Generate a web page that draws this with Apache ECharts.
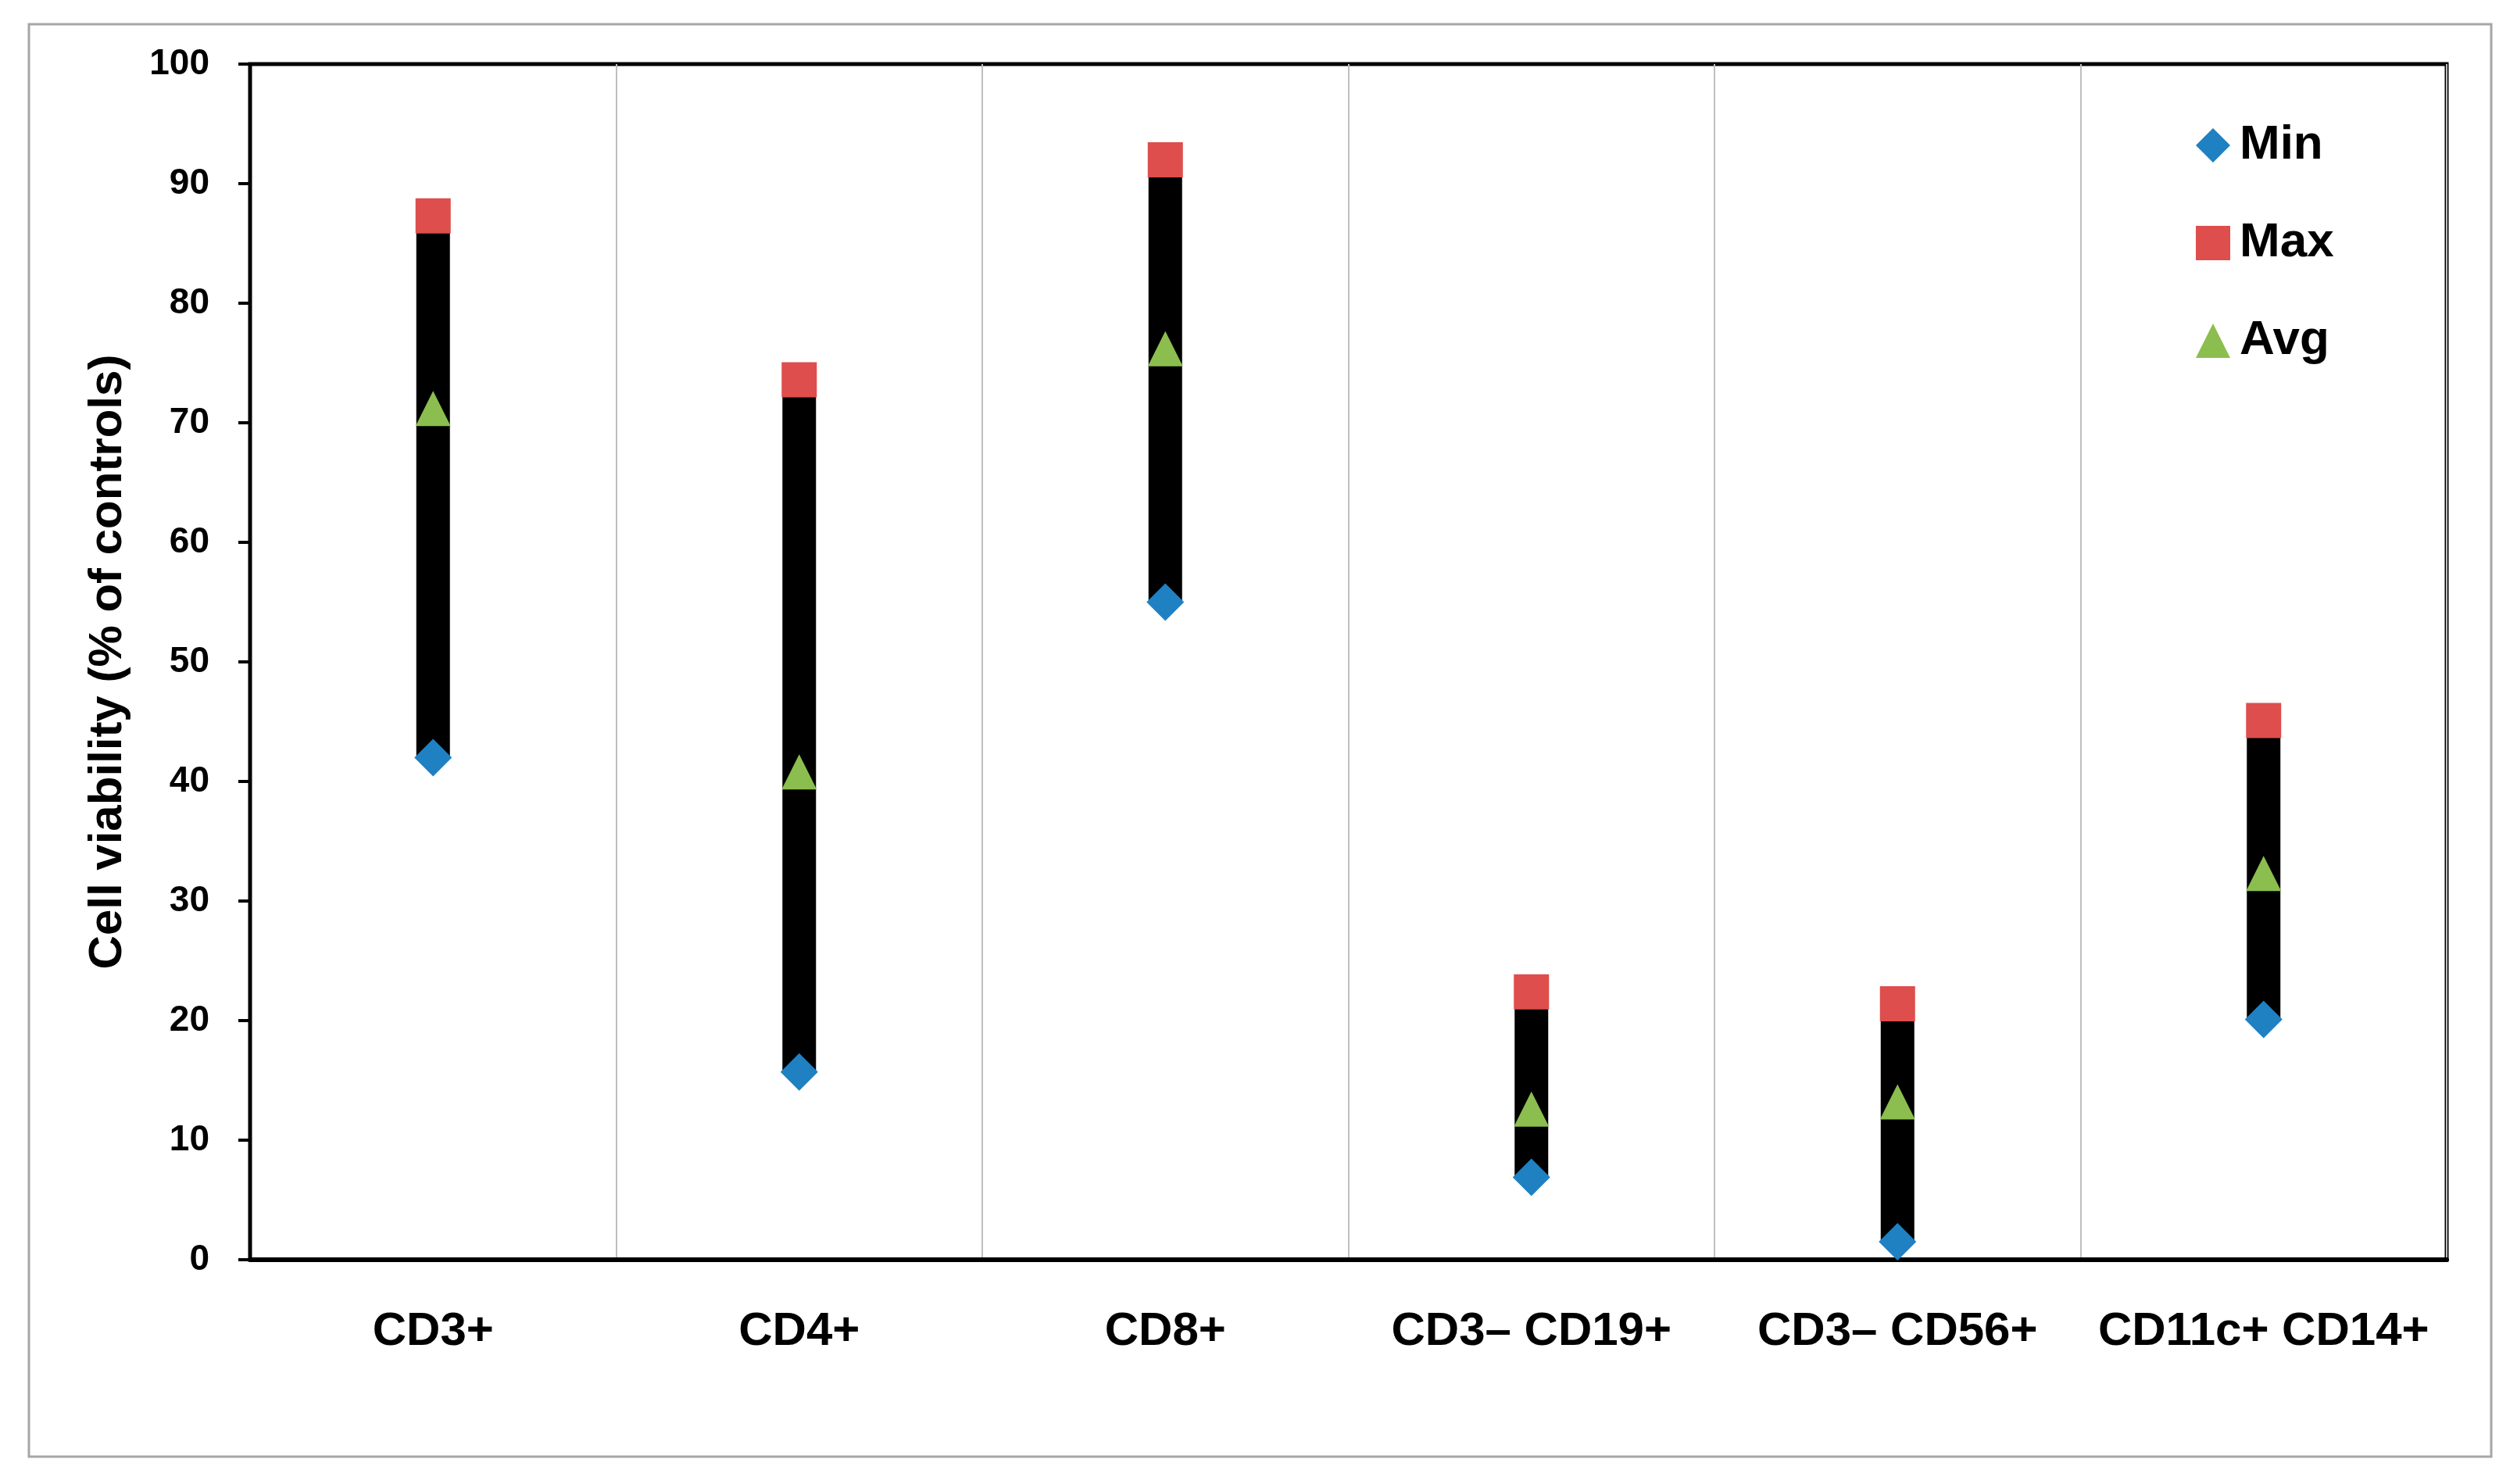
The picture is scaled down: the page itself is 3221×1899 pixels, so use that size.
<!DOCTYPE html>
<html>
<head>
<meta charset="utf-8">
<script src="https://cdn.jsdelivr.net/npm/echarts@6/dist/echarts.min.js"></script>
<style>
html,body{margin:0;padding:0;background:#fff;}
#chart{width:3221px;height:1899px;}
</style>
</head>
<body>
<div id="chart"></div>
<script>
const categories = ['CD3+', 'CD4+', 'CD8+', 'CD3\u2013 CD19+', 'CD3\u2013 CD56+', 'CD11c+ CD14+'];
const minVals = [42.0, 15.7, 55.0, 6.9, 1.5, 20.1];
const maxVals = [87.3, 73.6, 92.0, 22.4, 21.4, 45.1];
const avgVals = [71.2, 40.8, 76.2, 12.6, 13.2, 32.3];
const yTicks = [0, 10, 20, 30, 40, 50, 60, 70, 80, 90, 100];

const FONT = 'Liberation Sans';
const chart = echarts.init(document.getElementById('chart'), null, {renderer: 'canvas'});

const rangeData = categories.map((c, i) => [i, minVals[i], maxVals[i]]);

const option = {
  backgroundColor: '#fff',
  animation: false,
  graphic: [{
    type: 'rect',
    shape: {x: 37, y: 31, width: 3151, height: 1833},
    style: {fill: 'none', stroke: '#A6A6A6', lineWidth: 3},
    z: -10
  }],
  grid: {
    left: 320, right: 90, top: 82, bottom: 287,
    show: true, borderColor: '#000', borderWidth: 5, backgroundColor: 'transparent'
  },
  legend: {
    orient: 'vertical',
    left: 2805, top: 150,
    itemWidth: 44, itemHeight: 44, itemGap: 63,
    textStyle: {fontFamily: FONT, fontWeight: 'bold', fontSize: 62, color: '#000', padding: [0, 0, 0, 7]},
    data: [
      {name: 'Min', icon: 'diamond'},
      {name: 'Max', icon: 'rect'},
      {name: 'Avg', icon: 'triangle'}
    ]
  },
  xAxis: {
    type: 'category',
    data: categories,
    boundaryGap: true,
    axisLine: {show: true, lineStyle: {color: '#000', width: 6}},
    axisTick: {show: false},
    splitLine: {show: true, lineStyle: {color: '#BFBFBF', width: 2}},
    axisLabel: {fontFamily: FONT, fontWeight: 'bold', fontSize: 60, color: '#000', margin: 62, interval: 0}
  },
  yAxis: {
    type: 'value',
    min: 0, max: 100, interval: 10,
    name: 'Cell viability (% of controls)',
    nameLocation: 'middle',
    nameRotate: 90,
    nameGap: 152,
    nameTextStyle: {fontFamily: FONT, fontWeight: 'bold', fontSize: 60, color: '#000'},
    axisLine: {show: true, lineStyle: {color: '#000', width: 4}},
    axisTick: {show: true, inside: false, length: 15, lineStyle: {color: '#000', width: 4}},
    splitLine: {show: false},
    axisLabel: {
      fontFamily: FONT, fontWeight: 'bold', fontSize: 46, color: '#000', margin: 52,
      formatter: v => yTicks.includes(v) ? String(v) : ''
    }
  },
  series: [
    {
      name: 'Range',
      type: 'custom',
      data: rangeData,
      z: 1,
      renderItem: function (params, api) {
        const lo = api.coord([api.value(0), api.value(1)]);
        const hi = api.coord([api.value(0), api.value(2)]);
        const w = 43;
        return {
          type: 'rect',
          shape: {x: lo[0] - w / 2, y: hi[1], width: w, height: lo[1] - hi[1]},
          style: {fill: '#000'}
        };
      }
    },
    {
      name: 'Max', type: 'scatter', symbol: 'rect', symbolSize: [45, 45],
      data: maxVals, itemStyle: {color: '#DD4E4D', opacity: 1}, z: 3
    },
    {
      name: 'Avg', type: 'scatter', symbol: 'triangle', symbolSize: [45, 45],
      data: avgVals, itemStyle: {color: '#8BBE4E', opacity: 1}, z: 4
    },
    {
      name: 'Min', type: 'scatter', symbol: 'diamond', symbolSize: [48, 48],
      data: minVals, itemStyle: {color: '#1F80C2', opacity: 1}, z: 5
    }
  ]
};
chart.setOption(option);
</script>
</body>
</html>
